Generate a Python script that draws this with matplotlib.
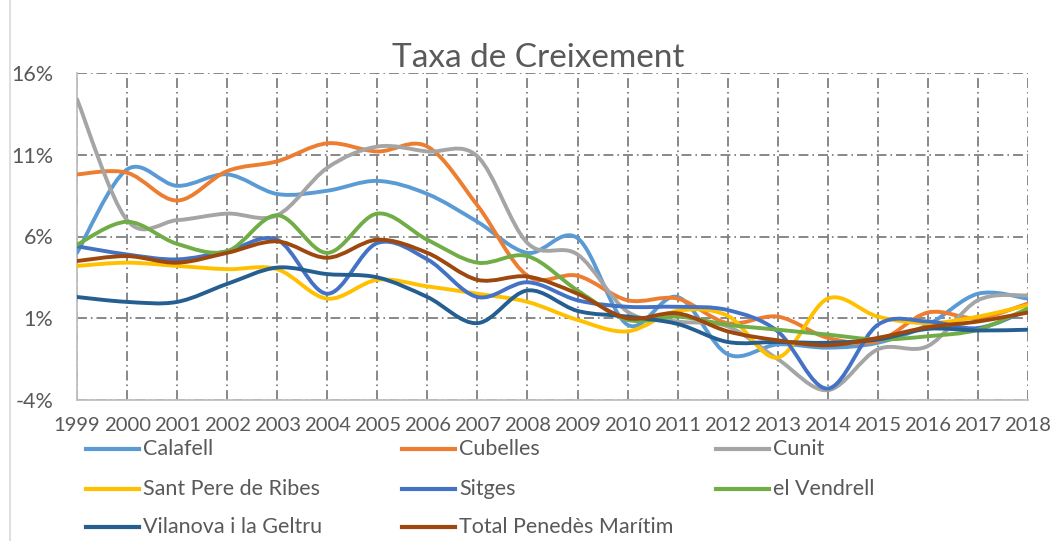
import matplotlib
matplotlib.use("Agg")
import matplotlib.pyplot as plt
import numpy as np
from matplotlib.path import Path
from matplotlib.patches import PathPatch
from matplotlib.lines import Line2D
from matplotlib.ticker import FuncFormatter

plt.rcParams['font.family'] = ['Lato', 'DejaVu Sans']

# data (growth rate, %)
years = list(range(1999, 2019))
calafell = [5.0, 10.1, 9.1, 9.8, 8.6, 8.8, 9.4, 8.6, 6.9, 5.0, 5.9, 0.6, 2.3, -1.2, -0.6, -0.8, -0.5, 0.6, 2.5, 2.2]
cubelles = [9.8, 9.9, 8.2, 10.0, 10.6, 11.7, 11.2, 11.5, 7.9, 3.6, 3.6, 2.1, 2.2, 0.7, 1.1, -0.2, -0.4, 1.35, 1.0, 1.9]
cunit = [14.4, 7.0, 7.0, 7.4, 7.3, 10.2, 11.5, 11.2, 10.9, 5.6, 4.9, 1.4, 0.8, 0.5, -1.5, -3.4, -0.9, -0.7, 2.1, 2.4]
sant_pere = [4.2, 4.4, 4.2, 4.0, 4.0, 2.2, 3.35, 2.95, 2.5, 2.0, 0.9, 0.2, 1.45, 1.15, -1.4, 2.2, 1.1, 0.7, 1.1, 1.8]
sitges = [5.4, 4.9, 4.6, 5.1, 5.8, 2.5, 5.6, 4.6, 2.3, 3.2, 2.1, 1.7, 1.7, 1.5, 0.2, -3.3, 0.6, 0.8, 0.4, 1.5]
vendrell = [5.5, 6.9, 5.55, 5.1, 7.3, 5.0, 7.4, 5.8, 4.4, 4.8, 2.7, 0.9, 1.1, 0.6, 0.3, 0.0, -0.3, -0.1, 0.3, 1.6]
vilanova = [2.3, 2.0, 2.0, 3.1, 4.1, 3.7, 3.5, 2.3, 0.7, 2.7, 1.45, 1.1, 0.65, -0.45, -0.45, -0.5, -0.3, 0.35, 0.25, 0.3]
total = [4.5, 4.8, 4.4, 5.0, 5.7, 4.7, 5.8, 5.0, 3.35, 3.55, 2.5, 1.0, 1.3, 0.2, -0.35, -0.65, -0.2, 0.45, 0.8, 1.35]

names = ['Calafell', 'Cubelles', 'Cunit', 'Sant Pere de Ribes', 'Sitges',
         'el Vendrell', 'Vilanova i la Geltru', 'Total Penedès Marítim']
series = [calafell, cubelles, cunit, sant_pere, sitges, vendrell, vilanova, total]
colors = ['#5B9BD5', '#ED7D31', '#A5A5A5', '#FFC000', '#4472C4',
          '#70AD47', '#255E91', '#9E480E']
yticks = [-4, 1, 6, 11, 16]


def smooth_path(x, y):
    # Excel-like smoothed line: Catmull-Rom as cubic Bezier segments
    p = np.column_stack([x, y]).astype(float)
    n = len(p)
    verts = [p[0]]
    codes = [Path.MOVETO]
    for i in range(n - 1):
        p0 = p[max(i - 1, 0)]
        p3 = p[min(i + 2, n - 1)]
        c1 = p[i] + (p[i + 1] - p0) / 6
        c2 = p[i + 1] - (p3 - p[i]) / 6
        verts += [c1, c2, p[i + 1]]
        codes += [Path.CURVE4] * 3
    return Path(verts, codes)


W, H = 1055, 541
fig = plt.figure(figsize=(W / 100, H / 100), dpi=100)
ax = fig.add_axes([77 / W, 1 - 400 / H, (1028 - 77) / W, (400 - 73) / H])

for vals, c in zip(series, colors):
    ax.add_patch(PathPatch(smooth_path(years, vals), facecolor='none',
                           edgecolor=c, lw=2.8, capstyle='round', zorder=3))

ax.set_xlim(years[0], years[-1])
ax.set_ylim(-4, 16)
ax.set_xticks(years)
ax.set_yticks(yticks)
ax.yaxis.set_major_formatter(FuncFormatter(lambda v, _: f'{v:.0f}%'))
ax.grid(True, color='#7F7F7F', lw=1.3, ls=(0, (5.5, 2.2, 0.9, 2.2)), zorder=1)
ax.tick_params(length=0, labelcolor='#595959')
ax.tick_params(axis='y', pad=17, labelsize=15.5)
ax.tick_params(axis='x', pad=12, labelsize=14.6)
for s in ['top', 'right']:
    ax.spines[s].set_visible(False)
for s in ['left', 'bottom']:
    ax.spines[s].set_color('#BFBFBF')
    ax.spines[s].set_linewidth(1.3)

fig.text(538 / W, 1 - 58 / H, 'Taxa de Creixement', ha='center', va='center',
         fontsize=24, color='#595959')

# chart border on the left
fig.add_artist(Line2D([10 / W, 10 / W], [0, 1], color='#D9D9D9', lw=1.2))

# legend, three entries per row
col_x = [86, 402, 716]
row_y = [449, 489, 527]
for i, (name, c) in enumerate(zip(names, colors)):
    x0 = col_x[i % 3]
    y0 = row_y[i // 3]
    fig.add_artist(Line2D([x0 / W, (x0 + 53) / W], [1 - y0 / H, 1 - y0 / H],
                          color=c, lw=3))
    fig.text((x0 + 57) / W, 1 - y0 / H, name, ha='left', va='center',
             fontsize=15.5, color='#595959')

fig.savefig('out.png', dpi=100)
